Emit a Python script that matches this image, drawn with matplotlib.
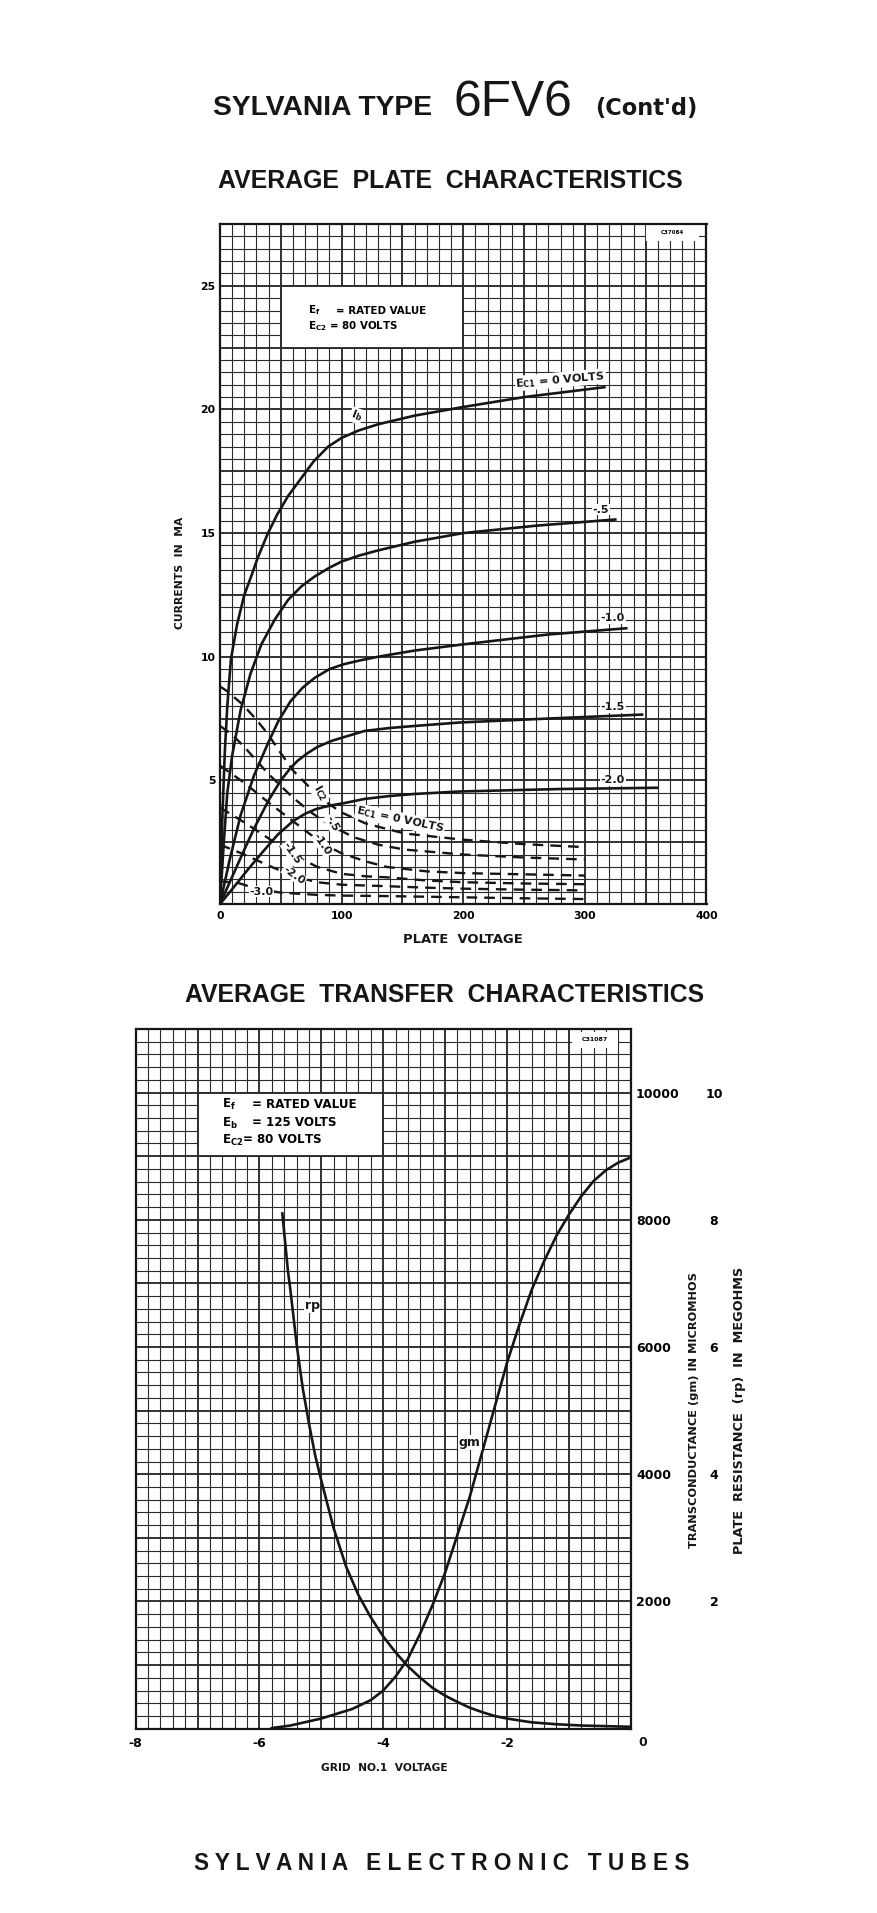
import matplotlib
matplotlib.use("Agg")
import matplotlib.pyplot as plt
from matplotlib.patches import Rectangle
from matplotlib.ticker import MultipleLocator, FuncFormatter
from matplotlib import font_manager as fm

# ---------------- data ----------------
# Plate characteristics: plate current Ib (mA) vs plate voltage (V)
ib_0_v = [0, 2, 4, 6, 9, 14, 20, 26, 31, 39, 47, 56, 65, 77, 89, 100, 114, 130, 160, 200, 250, 316]
ib_0_i = [0, 3.6, 6.2, 8.0, 9.9, 11.3, 12.5, 13.3, 14.0, 14.95, 15.75, 16.5, 17.1, 17.9, 18.5, 18.85, 19.15, 19.4, 19.75, 20.1, 20.5, 20.9]
ib_05_v = [0, 3, 6, 10, 17, 25, 34, 45, 56, 67, 78, 90, 100, 115, 130, 160, 200, 260, 325]
ib_05_i = [0, 2.4, 4.5, 6.0, 7.85, 9.3, 10.5, 11.5, 12.3, 12.85, 13.25, 13.6, 13.85, 14.1, 14.3, 14.65, 15.0, 15.3, 15.55]
ib_10_v = [0, 8, 17, 28, 39, 48, 58, 68, 78, 90, 102, 115, 130, 160, 200, 270, 334]
ib_10_i = [0, 1.8, 3.6, 5.2, 6.45, 7.4, 8.2, 8.75, 9.15, 9.5, 9.7, 9.85, 10.0, 10.25, 10.5, 10.9, 11.15]
ib_15_v = [0, 10, 20, 28, 40, 50, 58, 64, 72, 80, 92, 102, 119, 140, 160, 197, 270, 347]
ib_15_i = [0, 1.1, 2.2, 3.05, 4.2, 5.0, 5.5, 5.8, 6.1, 6.35, 6.6, 6.75, 7.0, 7.12, 7.2, 7.34, 7.5, 7.66]
ib_20_v = [0, 10, 22.7, 35, 47.4, 60, 70, 78, 86, 95, 102, 119, 140, 160, 197, 280, 359]
ib_20_i = [0, 0.6, 1.38, 2.1, 2.8, 3.35, 3.65, 3.82, 3.93, 4.02, 4.08, 4.25, 4.37, 4.45, 4.55, 4.65, 4.7]

# Screen current Ic2 (mA) vs plate voltage (dashed)
ic2_0_v = [0, 6, 19, 30, 39, 50, 60, 72, 85, 100, 120, 152, 200, 250, 300]
ic2_0_i = [8.8, 8.6, 8.05, 7.45, 6.9, 6.1, 5.4, 4.8, 4.2, 3.7, 3.25, 2.85, 2.6, 2.42, 2.3]
ic2_05_v = [0, 10, 20, 40, 60, 75, 90, 110, 130, 152, 200, 250, 300]
ic2_05_i = [7.2, 6.85, 6.35, 5.25, 4.3, 3.7, 3.2, 2.7, 2.4, 2.2, 2.0, 1.88, 1.8]
ic2_10_v = [0, 20, 40, 60, 84, 100, 120, 137, 170, 200, 250, 300]
ic2_10_i = [5.6, 4.9, 4.1, 3.35, 2.45, 2.05, 1.72, 1.5, 1.32, 1.25, 1.2, 1.15]
ic2_15_v = [0, 20, 40, 59, 80, 100, 120, 137, 170, 200, 250, 300]
ic2_15_i = [3.9, 3.3, 2.65, 2.02, 1.5, 1.22, 1.12, 1.08, 0.95, 0.88, 0.83, 0.8]
ic2_20_v = [0, 20, 40, 61, 80, 100, 137, 170, 200, 250, 300]
ic2_20_i = [2.4, 2.0, 1.55, 1.12, 0.88, 0.78, 0.72, 0.66, 0.62, 0.58, 0.55]
ic2_30_v = [0, 15, 30, 50, 80, 100, 137, 200, 250, 300]
ic2_30_i = [0.92, 0.85, 0.62, 0.46, 0.37, 0.34, 0.32, 0.27, 0.23, 0.2]

plate_x_ticks = [0, 100, 200, 300, 400]
plate_y_ticks = [5, 10, 15, 20, 25]

# Transfer characteristics
gm_v = [-5.8, -5.5, -5.0, -4.5, -4.2, -4.0, -3.8, -3.6, -3.4, -3.2, -3.0, -2.8, -2.6, -2.4, -2.2,
        -2.0, -1.8, -1.6, -1.4, -1.2, -1.0, -0.8, -0.6, -0.4, -0.2, 0]
gm_val = [10, 50, 160, 310, 450, 600, 820, 1100, 1500, 1950, 2450, 3050, 3650, 4350, 5050,
          5750, 6350, 6900, 7350, 7750, 8080, 8370, 8610, 8780, 8900, 8980]
rp_v = [-5.63, -5.54, -5.5, -5.4, -5.3, -5.2, -5.1, -5.0, -4.8, -4.6, -4.4, -4.2, -4.0, -3.8, -3.6,
        -3.4, -3.2, -3.0, -2.8, -2.6, -2.4, -2.2, -2.0, -1.6, -1.2, -0.8, -0.4, 0]
rp_val = [8.1, 7.2, 6.9, 6.05, 5.35, 4.8, 4.3, 3.9, 3.15, 2.55, 2.1, 1.75, 1.45, 1.2, 0.98,
          0.8, 0.64, 0.52, 0.42, 0.33, 0.26, 0.2, 0.16, 0.1, 0.07, 0.05, 0.04, 0.03]
grid_x_ticks = [-8, -6, -4, -2]
gm_ticks = [2000, 4000, 6000, 8000, 10000]
rp_ticks = [2, 4, 6, 8, 10]

# ---------------- style ----------------
W, H = 878, 1913
INK = "#161616"
GRID = "#2a2a2a"
names = {f.name for f in fm.fontManager.ttflist}
NARROW = "Liberation Sans Narrow" if "Liberation Sans Narrow" in names else "Liberation Sans"
LAB = "DejaVu Sans"
plt.rcParams["font.family"] = [LAB]
plt.rcParams["mathtext.fontset"] = "custom"
plt.rcParams["mathtext.rm"] = "DejaVu Sans:bold"
plt.rcParams["mathtext.it"] = "DejaVu Sans:bold"
plt.rcParams["mathtext.bf"] = "DejaVu Sans:bold"
plt.rcParams["mathtext.default"] = "rm"

fig = plt.figure(figsize=(W / 100, H / 100), dpi=100)
fig.patch.set_facecolor("white")


def fx(x):
    return x / W


def fy(y):
    return 1 - y / H


renderer = fig.canvas.get_renderer()


def fit(t, target, vertical=False):
    bb = t.get_window_extent(renderer)
    L = bb.height if vertical else bb.width
    t.set_fontsize(t.get_fontsize() * target / L)
    return t


def style_grid(ax):
    ax.set_axisbelow(True)
    ax.grid(which="major", color=GRID, lw=1.35)
    ax.grid(which="minor", color=GRID, lw=0.8)
    ax.tick_params(which="both", length=0)
    for s in ax.spines.values():
        s.set_linewidth(1.6)
        s.set_color(INK)


def curve_label(ax, x, y, s, rot=0, size=8.0):
    ax.text(x, y, s, rotation=rot, rotation_mode="anchor", ha="center", va="center",
            fontsize=size, fontweight="bold", color=INK, zorder=5,
            bbox=dict(fc="white", ec="none", pad=0.6))


# ---------------- top chart ----------------
ax1 = fig.add_axes([fx(220), fy(904), (706.5 - 220) / W, (904 - 224) / H])
ax1.set_xlim(0, 400)
ax1.set_ylim(0, 27.5)
ax1.xaxis.set_major_locator(MultipleLocator(50))
ax1.xaxis.set_minor_locator(MultipleLocator(10))
ax1.yaxis.set_major_locator(MultipleLocator(2.5))
ax1.yaxis.set_minor_locator(MultipleLocator(0.5))
ax1.xaxis.set_major_formatter(FuncFormatter(
    lambda v, p: str(int(round(v))) if any(abs(v - t) < 1e-6 for t in plate_x_ticks) else ""))
ax1.yaxis.set_major_formatter(FuncFormatter(
    lambda v, p: str(int(round(v))) if any(abs(v - t) < 1e-6 for t in plate_y_ticks) else ""))
style_grid(ax1)
ax1.tick_params(axis="x", pad=5, labelsize=7.8)
ax1.tick_params(axis="y", pad=3.2, labelsize=7.8)
for lbl in ax1.get_xticklabels() + ax1.get_yticklabels():
    lbl.set_fontweight("bold")

ax1.add_patch(Rectangle((50, 22.5), 150, 2.5, fc="white", ec=GRID, lw=1.35, zorder=1))
ax1.add_patch(Rectangle((350, 26.8), 44, 0.65, fc="white", ec="none", zorder=1))
ax1.text(372, 27.15, "C37084", fontsize=4, fontweight="bold", ha="center", va="center", zorder=2)
ax1.text(72.7, 24.0, "E$_f$", fontsize=7.4, fontweight="bold", va="center", zorder=2)
ax1.text(95.7, 24.0, "= RATED VALUE", fontsize=7.4, fontweight="bold", va="center", zorder=2)
ax1.text(72.7, 23.37, "E$_{C2}$ = 80 VOLTS", fontsize=7.4, fontweight="bold", va="center", zorder=2)

for v, i in [(ib_0_v, ib_0_i), (ib_05_v, ib_05_i), (ib_10_v, ib_10_i),
             (ib_15_v, ib_15_i), (ib_20_v, ib_20_i)]:
    ax1.plot(v, i, color=INK, lw=1.9, zorder=3, solid_joinstyle="round")
for v, i in [(ic2_0_v, ic2_0_i), (ic2_05_v, ic2_05_i), (ic2_10_v, ic2_10_i),
             (ic2_15_v, ic2_15_i), (ic2_20_v, ic2_20_i), (ic2_30_v, ic2_30_i)]:
    ax1.plot(v, i, color=INK, lw=1.7, ls=(0, (4.5, 3.0)), dash_capstyle="butt", zorder=3)

curve_label(ax1, 112, 19.75, "I$_b$", rot=-20)
curve_label(ax1, 280, 21.2, "E$_{C1}$ = 0 VOLTS", rot=5)
curve_label(ax1, 313, 15.95, "-.5")
curve_label(ax1, 323, 11.55, "-1.0")
curve_label(ax1, 323, 7.95, "-1.5")
curve_label(ax1, 323, 5.0, "-2.0")
curve_label(ax1, 82, 4.5, "I$_{C2}$", rot=-60)
curve_label(ax1, 148, 3.4, "E$_{C1}$ = 0 VOLTS", rot=-12)
curve_label(ax1, 92, 3.25, "-.5", rot=-60)
curve_label(ax1, 84, 2.4, "-1.0", rot=-55)
curve_label(ax1, 59, 2.05, "-1.5", rot=-55)
curve_label(ax1, 61, 1.17, "-2.0", rot=-35)
curve_label(ax1, 34, 0.5, "-3.0")

# ---------------- bottom chart ----------------
ax2 = fig.add_axes([fx(135.7), fy(1728.7), (630.7 - 135.7) / W, (1728.7 - 1029) / H])
ax2.set_xlim(-8, 0)
ax2.set_ylim(0, 11000)
ax2.xaxis.set_major_locator(MultipleLocator(1))
ax2.xaxis.set_minor_locator(MultipleLocator(0.2))
ax2.yaxis.set_major_locator(MultipleLocator(1000))
ax2.yaxis.set_minor_locator(MultipleLocator(200))
ax2.xaxis.set_major_formatter(FuncFormatter(
    lambda v, p: "%d" % round(v) if any(abs(v - t) < 1e-6 for t in grid_x_ticks) else ""))
ax2.yaxis.set_major_formatter(FuncFormatter(
    lambda v, p: "%d" % round(v) if any(abs(v - t) < 1e-6 for t in gm_ticks) else ""))
style_grid(ax2)

ax3 = ax2.twinx()
ax3.set_ylim(0, 11)
ax3.set_yticks(rp_ticks)
ax3.set_yticklabels([str(t) for t in rp_ticks])
ax3.tick_params(axis="y", length=0, pad=60, labelsize=9)
for lbl in ax3.get_yticklabels():
    lbl.set_fontweight("bold")
    lbl.set_horizontalalignment("center")
for s in ax3.spines.values():
    s.set_visible(False)

# twinx moves the host ticks to the left; put them back on the right
ax2.yaxis.tick_right()
ax2.tick_params(axis="y", which="both", length=0, labelleft=False, labelright=True,
                pad=3.8, labelsize=9)
ax2.tick_params(axis="x", pad=6.3, labelsize=9)
for lbl in ax2.get_xticklabels() + ax2.get_yticklabels():
    lbl.set_fontweight("bold")

ax2.add_patch(Rectangle((-7, 9000), 3, 1000, fc="white", ec=GRID, lw=1.35, zorder=1))
ax2.add_patch(Rectangle((-0.95, 10700), 0.75, 250, fc="white", ec="none", zorder=1))
ax2.text(-0.58, 10830, "C31087", fontsize=4.5, fontweight="bold", ha="center", va="center", zorder=2)
ax2.text(-6.61, 9806, "E$_f$", fontsize=8.6, fontweight="bold", va="center", zorder=2)
ax2.text(-6.12, 9806, "= RATED VALUE", fontsize=8.6, fontweight="bold", va="center", zorder=2)
ax2.text(-6.61, 9523, "E$_b$", fontsize=8.6, fontweight="bold", va="center", zorder=2)
ax2.text(-6.12, 9523, "= 125 VOLTS", fontsize=8.6, fontweight="bold", va="center", zorder=2)
ax2.text(-6.61, 9244, "E$_{C2}$= 80 VOLTS", fontsize=8.6, fontweight="bold", va="center", zorder=2)

ax2.plot(gm_v, gm_val, color=INK, lw=1.9, zorder=3)
ax3.plot(rp_v, rp_val, color=INK, lw=1.9, zorder=3)
curve_label(ax2, -5.15, 6650, "rp", size=9)
curve_label(ax2, -2.6, 4500, "gm", size=9)

# ---------------- page texts ----------------
t = fig.text(fx(213), fy(115), "SYLVANIA TYPE", family=NARROW, fontweight="bold",
             fontsize=16, va="baseline", ha="left", color=INK)
fit(t, 220)
t = fig.text(fx(454), fy(116), "6FV6", family="Liberation Sans", fontsize=30,
             va="baseline", ha="left", color=INK)
fit(t, 119)
t = fig.text(fx(595), fy(115), "(Cont'd)", family=LAB, fontweight="bold",
             fontsize=12, va="baseline", ha="left", color=INK)
fit(t, 102)

t = fig.text(fx(450), fy(181), "AVERAGE  PLATE  CHARACTERISTICS", family=NARROW,
             fontweight="bold", fontsize=18, ha="center", va="center", color=INK)
fit(t, 465)
t = fig.text(fx(445), fy(995), "AVERAGE  TRANSFER  CHARACTERISTICS", family=NARROW,
             fontweight="bold", fontsize=18, ha="center", va="center", color=INK)
fit(t, 517)
t = fig.text(fx(442), fy(1864), "S Y L V A N I A   E L E C T R O N I C   T U B E S",
             family=NARROW, fontweight="bold", fontsize=18, ha="center", va="center", color=INK)
fit(t, 498)

t = fig.text(fx(463), fy(939), "PLATE  VOLTAGE", fontweight="bold", fontsize=8,
             ha="center", va="center", color=INK)
fit(t, 119)
t = fig.text(fx(180), fy(573), "CURRENTS  IN  MA", fontweight="bold", fontsize=8,
             rotation=90, ha="center", va="center", color=INK)
fit(t, 112, vertical=True)
t = fig.text(fx(384), fy(1768), "GRID  NO.1  VOLTAGE", fontweight="bold", fontsize=8,
             ha="center", va="center", color=INK)
fit(t, 126)
t = fig.text(fx(694), fy(1410), "TRANSCONDUCTANCE (gm) IN MICROMHOS", fontweight="bold",
             fontsize=8, rotation=90, ha="center", va="center", color=INK)
fit(t, 276, vertical=True)
t = fig.text(fx(740), fy(1410), "PLATE  RESISTANCE  (rp)  IN  MEGOHMS", fontweight="bold",
             fontsize=8, rotation=90, ha="center", va="center", color=INK)
fit(t, 288, vertical=True)
fig.text(fx(643), fy(1742), "0", fontweight="bold", fontsize=9, ha="center", va="center", color=INK)

fig.savefig("out.png", dpi=100, facecolor="white")
